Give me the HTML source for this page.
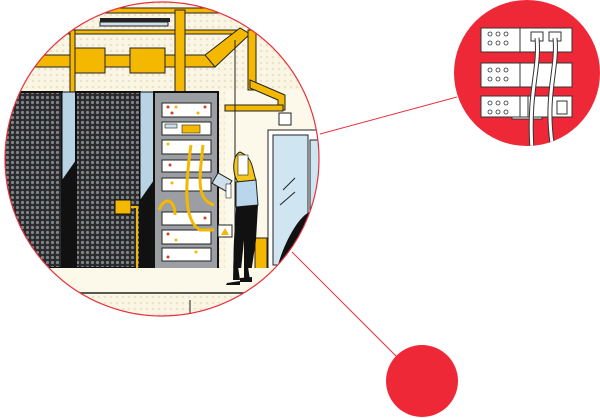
<!DOCTYPE html>
<html><head><meta charset="utf-8"><style>html,body{margin:0;padding:0;background:#fff;width:600px;height:418px;overflow:hidden}</style></head>
<body>
<svg width="600" height="418" viewBox="0 0 600 418" xmlns="http://www.w3.org/2000/svg">
<defs>
<clipPath id="c"><circle cx="162" cy="159" r="157"/></clipPath>
<clipPath id="c2"><circle cx="527" cy="73" r="73"/></clipPath>
<pattern id="dots" width="6" height="6" patternUnits="userSpaceOnUse"><rect width="6" height="6" fill="#fbf6e4"/><circle cx="3" cy="3" r="1.3" fill="#ece4c8"/></pattern>
<pattern id="hex" width="5" height="5" patternUnits="userSpaceOnUse"><rect width="5" height="5" fill="#2a2a2a"/><circle cx="2.5" cy="2.5" r="1.6" fill="#7d838b"/></pattern>
</defs>
<g clip-path="url(#c)">
<rect x="0" y="0" width="330" height="320" fill="url(#dots)"/>
<rect x="225" y="90" width="110" height="210" fill="#fcf8ea"/>
<rect x="100" y="18" width="70" height="4" fill="#222"/>
<rect x="100" y="22" width="68" height="4" fill="#cfe0ea" stroke="#222" stroke-width="1"/>
<g fill="#f5b800" stroke="#222" stroke-width="1">
<rect x="0" y="8" width="330" height="5"/>
<rect x="30" y="30" width="210" height="4"/>
<rect x="0" y="55" width="215" height="12"/>
<polygon points="205,55 240,28 250,34 215,67"/>
<rect x="70" y="48" width="35" height="25"/>
<rect x="130" y="48" width="35" height="25"/>
<rect x="175" y="10" width="10" height="82"/>
<rect x="70" y="30" width="5" height="62"/>
<rect x="248" y="30" width="8" height="60"/>
<polygon points="250,80 285,95 285,110 278,110 278,100 250,88"/>
<rect x="225" y="105" width="58" height="6"/>
<rect x="255" y="238" width="12" height="40"/>
</g>
<rect x="279" y="113" width="12" height="12" fill="#fff" stroke="#222"/>
<line x1="235" y1="40" x2="235" y2="270" stroke="#222" stroke-width="1"/>
<rect x="0" y="92" width="62" height="176" fill="url(#hex)" stroke="#111" stroke-width="2"/>
<rect x="62" y="92" width="14" height="176" fill="#b8d3e4" stroke="#111"/>
<polygon points="62,180 76,160 76,268 62,268" fill="#111"/>
<rect x="76" y="92" width="64" height="176" fill="url(#hex)" stroke="#111" stroke-width="2"/>
<rect x="140" y="92" width="14" height="176" fill="#b8d3e4" stroke="#111"/>
<polygon points="140,200 154,180 154,268 140,268" fill="#111"/>
<rect x="115" y="200" width="16" height="14" fill="#f5b800" stroke="#111"/>
<path d="M131,207 L137,207 L137,268" stroke="#f5b800" stroke-width="2" fill="none"/>
<rect x="154" y="92" width="64" height="180" fill="#9b9ea3" stroke="#111" stroke-width="2"/>
<g fill="#fff" stroke="#222" stroke-width="1">
<rect x="162" y="103" width="49" height="14"/>
<rect x="162" y="122" width="49" height="13"/>
<rect x="162" y="140" width="49" height="14"/>
<rect x="162" y="160" width="49" height="12"/>
<rect x="162" y="178" width="49" height="13"/>
<rect x="162" y="212" width="49" height="13"/>
<rect x="162" y="230" width="49" height="14"/>
<rect x="162" y="248" width="49" height="13"/>
</g>
<g fill="#c42">
<circle cx="168" cy="107" r="1.5"/><circle cx="172" cy="113" r="1.5"/><circle cx="205" cy="107" r="1.5"/>
<circle cx="170" cy="165" r="1.5"/><circle cx="168" cy="234" r="1.5"/><circle cx="205" cy="218" r="1.5"/><circle cx="168" cy="257" r="1.5"/>
</g>
<g fill="#f5b800"><circle cx="176" cy="107" r="1.5"/><circle cx="198" cy="113" r="1.5"/><circle cx="168" cy="144" r="1.5"/><circle cx="172" cy="183" r="1.5"/><circle cx="176" cy="240" r="1.5"/><circle cx="196" cy="252" r="1.5"/></g>
<rect x="182" y="125" width="18" height="8" fill="#f5b800" stroke="#222" stroke-width=".6"/>
<rect x="165" y="124" width="12" height="4" fill="#cfe0ea" stroke="#222" stroke-width=".6"/>
<g fill="none" stroke="#f5b800" stroke-width="3">
<path d="M191,145 C186,180 182,220 200,230 L214,230"/>
<path d="M203,145 C200,175 195,200 214,205"/>
<path d="M159,210 C165,195 175,200 175,215"/>
</g>
<rect x="218" y="225" width="14" height="12" fill="#fff" stroke="#222"/>
<polygon points="225,228 229,235 221,235" fill="#f5b800"/>
<rect x="268" y="130" width="56" height="140" fill="#fff" stroke="#222"/>
<rect x="273" y="135" width="35" height="130" fill="#cfe6f2" stroke="#222"/>
<rect x="310" y="140" width="12" height="125" fill="#cfe6f2" stroke="#222"/>
<path d="M278,265 C285,240 300,215 310,212 L330,210 L330,270 Z" fill="#111"/>
<line x1="283" y1="190" x2="295" y2="178" stroke="#222"/>
<line x1="280" y1="205" x2="295" y2="192" stroke="#222"/>
<path d="M240,152 C232,155 232,175 238,182 L256,180 C252,170 254,158 240,152Z" fill="#f5c518" stroke="#222"/>
<rect x="238" y="155" width="10" height="20" fill="#fff" stroke="#222" stroke-width=".6"/>
<path d="M236,182 L256,180 L258,205 L236,207Z" fill="#b9d6ec" stroke="#222"/>
<path d="M236,207 L258,205 L256,240 L250,280 L244,280 L244,240 L240,280 L233,280 L234,240Z" fill="#111"/>
<rect x="214" y="176" width="16" height="12" fill="#cfe0ea" stroke="#222" transform="rotate(30 222 182)"/>
<rect x="226" y="184" width="5" height="14" fill="#fff" stroke="#222" stroke-width=".6"/>
<rect x="0" y="268" width="330" height="60" fill="#fcf8ea"/>
<line x1="0" y1="293" x2="330" y2="293" stroke="#222" stroke-width="1.5"/>
<rect x="0" y="295" width="330" height="30" fill="url(#dots)"/>
<line x1="190" y1="300" x2="190" y2="320" stroke="#222"/>
<path d="M244,240 L250,280 L244,280 Z M234,240 L240,280 L233,280Z" fill="#111"/>
<path d="M227,283 L240,281 L240,285 L226,285Z M240,278 L252,277 L252,282 L240,282Z" fill="#111"/>
</g>
<circle cx="162" cy="159" r="157" fill="none" stroke="#e8303d" stroke-width="1.2"/>
<line x1="320" y1="134" x2="457" y2="97" stroke="#e8303d" stroke-width="1"/>
<line x1="292" y1="252" x2="397" y2="357" stroke="#e8303d" stroke-width="1"/>
<circle cx="422" cy="381" r="36" fill="#ef2837"/>
<circle cx="527" cy="73" r="73" fill="#ef2837"/>
<g clip-path="url(#c2)">
<g fill="#fff" stroke="#333" stroke-width="1">
<rect x="481" y="28" width="91" height="24"/>
<line x1="520" y1="28" x2="520" y2="52"/>
<rect x="481" y="63" width="91" height="24"/>
<line x1="520" y1="63" x2="520" y2="87"/>
<rect x="512" y="111" width="30" height="8"/>
<rect x="481" y="96" width="91" height="21"/>
<line x1="520" y1="96" x2="520" y2="117"/>
<rect x="557" y="101" width="10" height="13"/>
<rect x="531" y="32" width="12" height="9"/>
<rect x="549" y="32" width="12" height="9"/>
</g>
<g fill="#fff" stroke="#333" stroke-width=".8">
<circle cx="490" cy="34" r="2"/><circle cx="498" cy="34" r="2"/><circle cx="506" cy="34" r="2"/>
<circle cx="490" cy="43" r="2"/><circle cx="498" cy="43" r="2"/><circle cx="506" cy="43" r="2"/>
<circle cx="490" cy="70" r="2"/><circle cx="498" cy="70" r="2"/><circle cx="506" cy="70" r="2"/>
<circle cx="490" cy="79" r="2"/><circle cx="498" cy="79" r="2"/><circle cx="506" cy="79" r="2"/>
<circle cx="490" cy="103" r="2"/><circle cx="498" cy="103" r="2"/><circle cx="506" cy="103" r="2"/>
<circle cx="490" cy="112" r="2"/><circle cx="498" cy="112" r="2"/><circle cx="506" cy="112" r="2"/>
</g>
<line x1="528" y1="96" x2="528" y2="117" stroke="#333" stroke-width="1"/>
<g fill="none" stroke="#333" stroke-width="5">
<path d="M537,38 C540,70 528,90 532,150"/>
<path d="M555,38 C558,70 544,95 553,150"/>
</g>
<g fill="none" stroke="#fff" stroke-width="3">
<path d="M537,38 C540,70 528,90 532,150"/>
<path d="M555,38 C558,70 544,95 553,150"/>
</g>
</g>
</svg>
</body></html>
